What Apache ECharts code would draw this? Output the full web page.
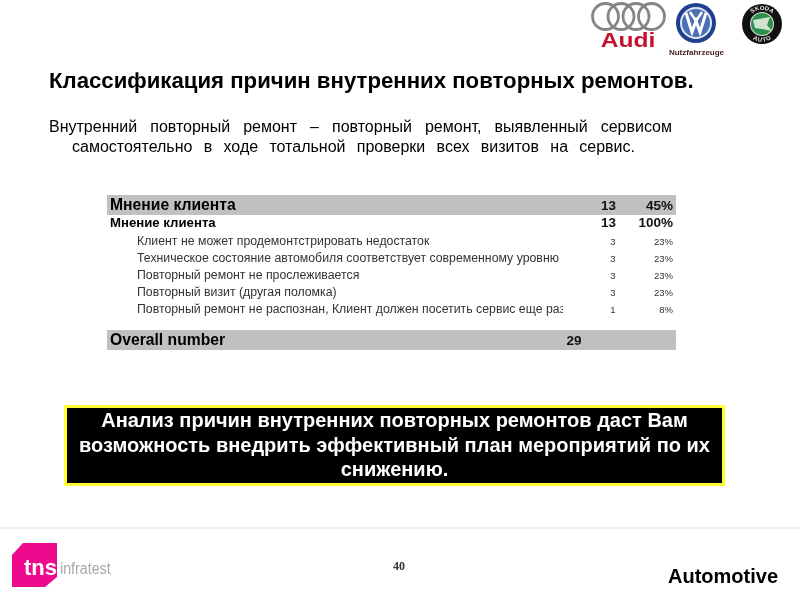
<!DOCTYPE html>
<html>
<head>
<meta charset="utf-8">
<style>html,body{margin:0;padding:0;background:#fff}#main{width:800px;height:600px}</style>
<script src="https://cdn.jsdelivr.net/npm/echarts@6/dist/echarts.min.js"></script>
</head>
<body>
<div id="main"></div>
<script>
// table data
var rowLabels = [
  'Мнение клиента',
  'Мнение клиента',
  'Клиент не может продемонтстрировать недостаток',
  'Техническое состояние автомобиля соответствует современному уровню',
  'Повторный ремонт не прослеживается',
  'Повторный визит (другая поломка)',
  'Повторный ремонт не распознан, Клиент должен посетить сервис еще раз',
  '',
  'Overall number'
];
var rowCounts = [13, 13, 3, 3, 3, 3, 1, null, 29];
var rowPercents = [45, 100, 23, 23, 23, 23, 8, null, null];
var rowKinds = ['band', 'sub', 'item', 'item', 'item', 'item', 'item', 'gap', 'total'];

var titleText = 'Классификация причин внутренних повторных ремонтов.';
var introLines = [
  'Внутренний повторный ремонт – повторный ремонт, выявленный сервисом',
  'самостоятельно в ходе тотальной проверки всех визитов на сервис.'
];
var calloutLines = [
  'Анализ причин внутренних повторных ремонтов даст Вам',
  'возможность внедрить эффективный план мероприятий по их',
  'снижению.'
];

var FONT = '"Liberation Sans", Arial, sans-serif';
var chart = echarts.init(document.getElementById('main'));

// слова в строке растягиваем по ширине
var measure = document.createElement('canvas').getContext('2d');
function justify(line, left, right, y, font) {
  measure.font = font;
  var words = line.split(' ');
  var total = 0;
  words.forEach(function (w) { total += measure.measureText(w).width; });
  var gap = (right - left - total) / (words.length - 1);
  var x = left;
  return words.map(function (w) {
    var el = { type: 'text', style: { text: w, x: x, y: y, font: font, fill: '#000', textVerticalAlign: 'middle' } };
    x += measure.measureText(w).width + gap;
    return el;
  });
}

function label(text, x, y, font, fill, align) {
  return { type: 'text', style: { text: text, x: x, y: y, font: font, fill: fill || '#000', textAlign: align || 'left', textVerticalAlign: 'middle' } };
}

// буквы по окружности для логотипа Skoda
function ringText(text, cx, cy, r, startDeg, stepDeg, flip) {
  return text.split('').map(function (ch, i) {
    var deg = startDeg + stepDeg * i;
    var rad = deg * Math.PI / 180;
    return {
      type: 'text',
      x: cx + r * Math.sin(rad),
      y: cy - r * Math.cos(rad),
      rotation: flip ? Math.PI - rad : -rad,
      style: { text: ch, x: 0, y: 0, font: 'bold 6px ' + FONT, fill: '#e8e8e8', textAlign: 'center', textVerticalAlign: 'middle' }
    };
  });
}

function renderRow(params, api) {
  var i = api.value(0);
  var kind = rowKinds[i];
  var base = api.coord([0, i]);
  var sys = params.coordSys;
  var children = [];
  if (kind === 'gap') return { type: 'group', children: children };
  var left = sys.x;
  var right = sys.x + sys.width;
  var y = base[1];
  if (kind === 'band' || kind === 'total') {
    y += kind === 'band' ? -2 : -3;
    children.push({ type: 'rect', shape: { x: left, y: y - 10, width: right - left, height: 20 }, style: { fill: '#c0c0c0' } });
    children.push(label(rowLabels[i], left + 3, y + 1, 'bold 15.7px ' + FONT));
    if (kind === 'band') {
      children.push(label(String(rowCounts[i]), left + 509, y + 1, 'bold 13.5px ' + FONT, '#111', 'right'));
      children.push(label(rowPercents[i] + '%', right - 3, y + 1, 'bold 13.5px ' + FONT, '#111', 'right'));
    } else {
      children.push(label(String(rowCounts[i]), left + 467, y + 1, 'bold 13.5px ' + FONT, '#111', 'center'));
    }
  } else if (kind === 'sub') {
    children.push(label(rowLabels[i], left + 3, y - 1, 'bold 13.2px ' + FONT));
    children.push(label(String(rowCounts[i]), left + 509, y - 1, 'bold 13.5px ' + FONT, '#111', 'right'));
    children.push(label(rowPercents[i] + '%', right - 3, y - 1, 'bold 13.5px ' + FONT, '#111', 'right'));
  } else {
    // длинные подписи обрезаются по краю колонки
    var cell = label(rowLabels[i], left + 30, y + 1, '12.3px ' + FONT, '#333');
    cell.clipPath = { type: 'rect', shape: { x: left + 30, y: y - 9, width: 426, height: 20 } };
    children.push(cell);
    children.push(label(String(rowCounts[i]), left + 506, y + 1, '9.5px ' + FONT, '#333', 'center'));
    children.push(label(rowPercents[i] + '%', right - 3, y + 1, '9.5px ' + FONT, '#333', 'right'));
  }
  return { type: 'group', children: children };
}

var audiWord = label('Audi', 0, 0, 'bold 21px ' + FONT, '#c4122f', 'center');
audiWord.x = 628; audiWord.y = 41; audiWord.scaleX = 1.17;
var infratestWord = label('infratest', 0, 0, '16px ' + FONT, '#a8a8a8');
infratestWord.x = 60; infratestWord.y = 570; infratestWord.scaleX = 0.89;

var graphics = [
  // логотипы
  { type: 'circle', shape: { cx: 605.5, cy: 16.5, r: 13 }, style: { fill: 'none', stroke: '#858585', lineWidth: 2.8 } },
  { type: 'circle', shape: { cx: 621, cy: 16.5, r: 13 }, style: { fill: 'none', stroke: '#858585', lineWidth: 2.8 } },
  { type: 'circle', shape: { cx: 636, cy: 16.5, r: 13 }, style: { fill: 'none', stroke: '#858585', lineWidth: 2.8 } },
  { type: 'circle', shape: { cx: 651.5, cy: 16.5, r: 13 }, style: { fill: 'none', stroke: '#858585', lineWidth: 2.8 } },
  audiWord,
  { type: 'circle', shape: { cx: 696, cy: 23, r: 20 }, style: { fill: '#1f3f8f' } },
  { type: 'circle', shape: { cx: 696, cy: 23, r: 16 }, style: { fill: '#dfe6f2' } },
  { type: 'circle', shape: { cx: 696, cy: 23, r: 14 }, style: { fill: '#4a6fb5' } },
  { type: 'polyline', shape: { points: [[686, 13], [692, 32], [696, 21], [700, 32], [706, 13]] }, style: { fill: 'none', stroke: '#fff', lineWidth: 3 } },
  { type: 'polyline', shape: { points: [[690, 12], [696, 21], [702, 12]] }, style: { fill: 'none', stroke: '#fff', lineWidth: 2.5 } },
  label('Nutzfahrzeuge', 696.5, 53, 'bold 8px ' + FONT, '#4a2020', 'center'),
  { type: 'circle', shape: { cx: 762, cy: 24, r: 20 }, style: { fill: '#111' } },
  { type: 'circle', shape: { cx: 762, cy: 24, r: 12 }, style: { fill: '#dfe8d8' } },
  { type: 'circle', shape: { cx: 762, cy: 24, r: 11 }, style: { fill: '#2f8f4f' } },
  { type: 'polygon', shape: { points: [[753, 20], [770, 17], [767, 25], [772, 31], [762, 29], [755, 28]] }, style: { fill: '#cfe3cf' } }
].concat(
  ringText('SKODA', 762, 24, 16, -36, 18, false),
  ringText('AUTO', 762, 24, 16, 204, -16, true),
  [
    // заголовок
    label(titleText, 49, 82, 'bold 22.2px ' + FONT)
  ],
  justify(introLines[0], 49, 672, 128, '16px ' + FONT),
  justify(introLines[1], 72, 635, 148, '16px ' + FONT),
  [
    // плашка с выводом
    { type: 'rect', shape: { x: 65.5, y: 406.5, width: 658, height: 78 }, style: { fill: '#000', stroke: '#ffff33', lineWidth: 3 } },
    label(calloutLines[0], 394.5, 421, 'bold 20px ' + FONT, '#fff', 'center'),
    label(calloutLines[1], 394.5, 446, 'bold 20px ' + FONT, '#fff', 'center'),
    label(calloutLines[2], 394.5, 470, 'bold 20px ' + FONT, '#fff', 'center'),

    // подвал
    { type: 'line', shape: { x1: 0, y1: 528, x2: 800, y2: 528 }, style: { stroke: '#dddddd', lineWidth: 1 } },
    { type: 'polygon', shape: { points: [[23, 543], [57, 543], [57, 577], [45, 587], [12, 587], [12, 555]] }, style: { fill: '#ee0a8c' } },
    label('tns', 24, 569, 'bold 22px ' + FONT, '#fff'),
    infratestWord,
    label('40', 399, 567, 'bold 12px "Liberation Serif", serif', '#333', 'center'),
    label('Automotive', 668, 577, 'bold 20px ' + FONT)
  ]
);

chart.setOption({
  animation: false,
  backgroundColor: '#fff',
  graphic: graphics,
  grid: { left: 107, width: 569, top: 198.5, height: 153 },
  xAxis: { type: 'value', min: 0, max: 1, show: false },
  yAxis: { type: 'category', inverse: true, show: false, data: rowLabels.map(function (r, i) { return i; }) },
  series: [{
    type: 'custom',
    renderItem: renderRow,
    data: rowLabels.map(function (r, i) { return [i]; }),
    encode: { x: -1, y: 0 },
    silent: true,
    clip: false
  }]
});
</script>
</body>
</html>
